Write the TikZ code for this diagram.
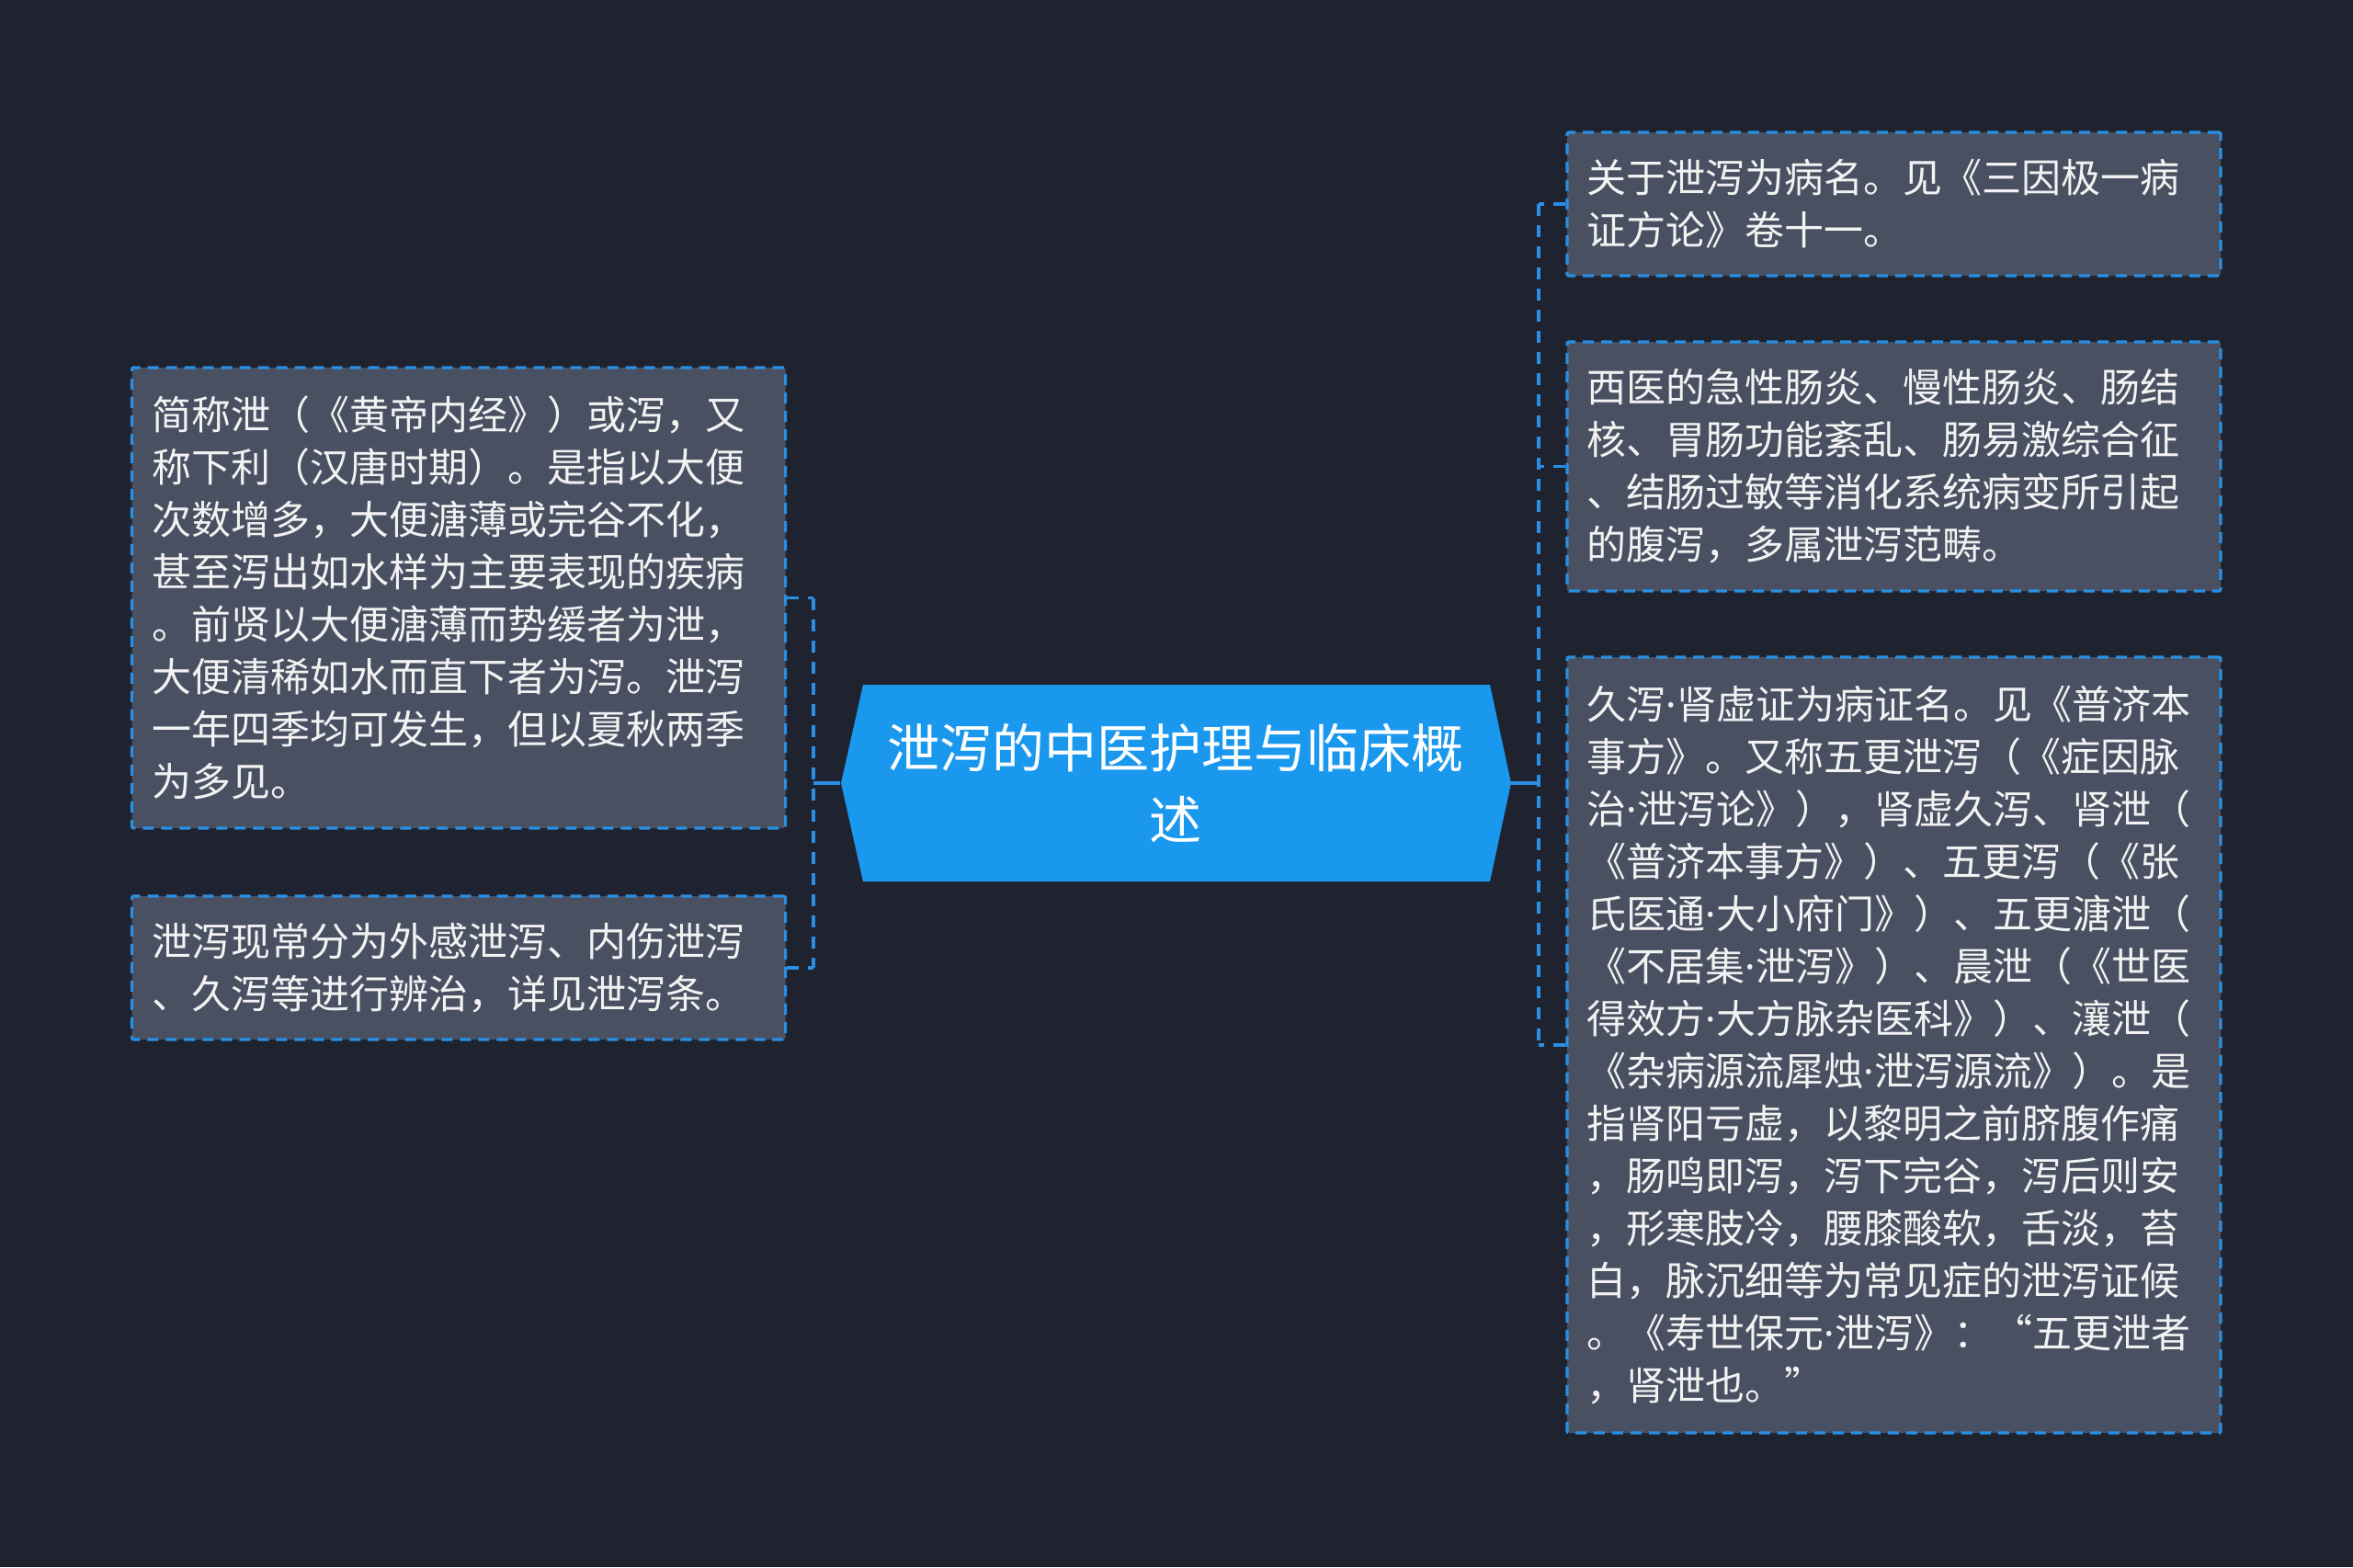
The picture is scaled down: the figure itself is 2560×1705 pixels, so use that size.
\documentclass[tikz,border=0pt]{standalone}
\usepackage{fontspec}
\setmainfont{Noto Sans CJK SC}
\newfontfamily\latinfont{Noto Sans}
\newcommand{\mdot}{{\latinfont ·}}
\usetikzlibrary{calc}
\definecolor{bgc}{HTML}{1F232F}
\definecolor{boxfill}{HTML}{495062}
\definecolor{lineblue}{HTML}{2A8FE4}
\definecolor{mainblue}{HTML}{1A98EE}
\definecolor{txt}{HTML}{F2F2F2}
\tikzset{
  leafbox/.style={draw=lineblue, fill=boxfill, line width=1.6pt, dash pattern=on 6pt off 4pt,
    rounded corners=1pt, minimum width=355.5pt, inner sep=0pt, text width=334pt, align=left,
    text=txt, font=\fontsize{21.5}{28.5}\selectfont},
  conn/.style={draw=lineblue, line width=1.7pt, dash pattern=on 6.5pt off 5pt},
  connsolid/.style={draw=lineblue, line width=1.7pt},
  maintext/.style={text=white, align=center, font=\fontsize{28.5}{39}\selectfont, inner sep=0pt,
    minimum width=365pt, minimum height=107pt}
}
\begin{document}
\begin{tikzpicture}[x=0.5pt,y=-0.5pt]
\fill[bgc] (0,0) rectangle (2560,1705);
\useasboundingbox (0,0) rectangle (2560,1705);
% central node
\coordinate (cc) at (1279,852);
\fill[mainblue] ($(cc)+(-340,-107)$) -- ($(cc)+(342,-107)$) -- ($(cc)+(365,0)$) -- ($(cc)+(342,107)$) -- ($(cc)+(-340,107)$) -- ($(cc)+(-364,0)$) -- cycle;
\node[maintext] (c) at (cc) {泄泻的中医护理与临床概\\述};
% left boxes
\node[leafbox, minimum height=250.5pt] (l1) at (499,650.5) {简称泄（《黄帝内经》）或泻，又\\称下利（汉唐时期）。是指以大便\\次数增多，大便溏薄或完谷不化，\\甚至泻出如水样为主要表现的疾病\\。前贤以大便溏薄而势缓者为泄，\\大便清稀如水而直下者为泻。泄泻\\一年四季均可发生，但以夏秋两季\\为多见。};
\node[leafbox, minimum height=78pt] (l2) at (499,1053) {泄泻现常分为外感泄泻、内伤泄泻\\、久泻等进行辨治，详见泄泻条。};
% right boxes
\node[leafbox, minimum height=78pt] (r1) at (2060.5,222) {关于泄泻为病名。见《三因极一病\\证方论》卷十一。};
\node[leafbox, minimum height=135.5pt] (r2) at (2060.5,507.5) {西医的急性肠炎、慢性肠炎、肠结\\核、胃肠功能紊乱、肠易激综合征\\、结肠过敏等消化系统病变所引起\\的腹泻，多属泄泻范畴。};
\node[leafbox, minimum height=422pt] (r3) at (2060.5,1137) {久泻\mdot 肾虚证为病证名。见《普济本\\事方》。又称五更泄泻（《症因脉\\治\mdot 泄泻论》），肾虚久泻、肾泄（\\《普济本事方》）、五更泻（《张\\氏医通\mdot 大小府门》）、五更溏泄（\\《不居集\mdot 泄泻》）、晨泄（《世医\\得效方\mdot 大方脉杂医科》）、瀼泄（\\《杂病源流犀烛\mdot 泄泻源流》）。是\\指肾阳亏虚，以黎明之前脐腹作痛\\，肠鸣即泻，泻下完谷，泻后则安\\，形寒肢冷，腰膝酸软，舌淡，苔\\白，脉沉细等为常见症的泄泻证候\\。《寿世保元\mdot 泄泻》：“五更泄者\\，肾泄也。”};
% connectors
\coordinate (lj) at (885,852);
\coordinate (rj) at (1674,852);
\draw[connsolid] (c.west) -- (lj);
\draw[connsolid] (c.east) -- (rj);
\draw[conn] (l1.east) -- (l1.east -| lj);
\draw[conn] (l2.east) -- (l2.east -| lj);
\draw[conn] (l1.east -| lj) -- (l2.east -| lj);
\draw[conn] (r1.west) -- (r1.west -| rj);
\draw[conn] (r2.west) -- (r2.west -| rj);
\draw[conn] (r3.west) -- (r3.west -| rj);
\draw[conn] (r1.west -| rj) -- (r3.west -| rj);
\end{tikzpicture}
\end{document}
